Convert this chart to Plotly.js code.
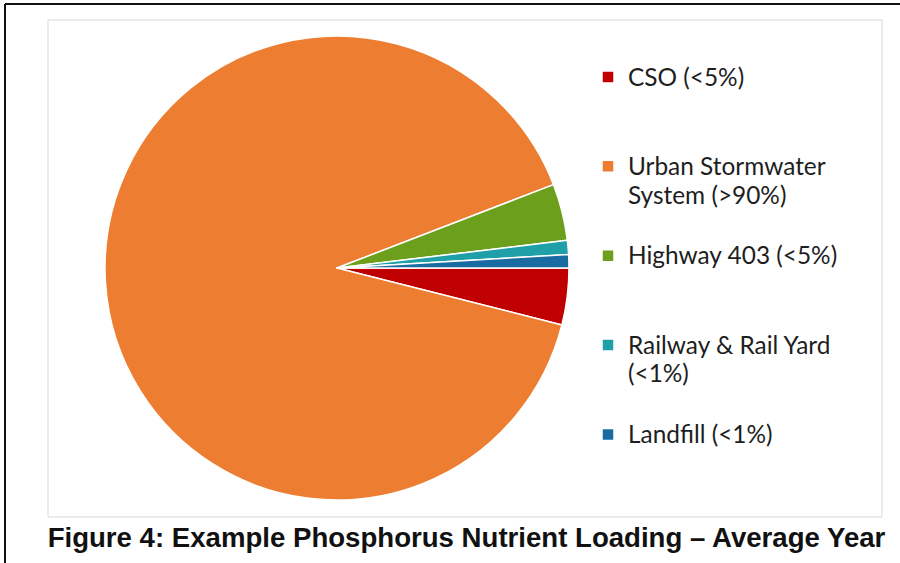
<!DOCTYPE html>
<html>
<head>
<meta charset="utf-8">
<script src="https://cdn.plot.ly/plotly-3.0.1.min.js"></script>
<style>html,body{margin:0;padding:0;background:#fff;}#chart{width:900px;height:563px;}</style>
</head>
<body>
<div id="chart"></div>
<script>
// Data (share of annual phosphorus load, %)
const categories = ["CSO (&lt;5%)", "Urban Stormwater<br>System (&gt;90%)", "Highway 403 (&lt;5%)", "Railway &amp; Rail Yard<br>(&lt;1%)", "Landfill (&lt;1%)"];
const legendPad = ["<br> <br> ", "<br> ", "<br> <br> ", "<br> ", "<br> <br> "];
const values = [3.95, 90.2, 3.95, 0.98, 0.92];
const colors = ["#C00000", "#ED7D31", "#6C9F1C", "#1F9FA8", "#1B6BA3"];
const figureTitle = "Figure 4: Example Phosphorus Nutrient Loading – Average Year";

const W = 900, H = 563;
const px = v => v / W;
const py = v => 1 - v / H;

const cx = 337, cy = 268, r = 232;

const wrapLine = s => s.split("<br>").map(t => '<span style="font-size:24.4px">' + t + '</span>').join("<br>");

const trace = {
  type: "pie",
  labels: categories.map((c, i) => wrapLine(c) + legendPad[i]),
  values: values,
  sort: false,
  direction: "clockwise",
  rotation: 90,
  marker: {colors: colors, line: {color: "#ffffff", width: 1.5}},
  textinfo: "none",
  hoverinfo: "none",
  domain: {x: [px(cx - r), px(cx + r)], y: [py(cy + r), py(cy - r)]}
};

const layout = {
  width: W, height: H,
  margin: {l: 0, r: 0, t: 0, b: 0},
  paper_bgcolor: "#ffffff",
  showlegend: true,
  legend: {
    x: px(588), xanchor: "left",
    y: py(56), yanchor: "top",
    valign: "top",
    bgcolor: "rgba(0,0,0,0)",
    font: {family: "Lato, 'Noto Sans', sans-serif", size: 22.15, color: "#1e1e1e"},
    traceorder: "normal"
  },
  title: {
    text: figureTitle,
    font: {family: "'Liberation Sans', Arial, sans-serif", size: 27.6, color: "#111111", weight: 700},
    x: px(466.5), xanchor: "center", xref: "paper",
    y: py(537.5), yanchor: "middle", yref: "paper"
  },
  shapes: [
    {type: "rect", xref: "paper", yref: "paper", x0: px(48), x1: px(882), y0: py(517), y1: py(20),
     line: {color: "#D9D9D9", width: 1}, fillcolor: "rgba(0,0,0,0)", layer: "below"},
    {type: "line", xref: "paper", yref: "paper", x0: px(5), x1: px(900), y0: py(4), y1: py(4),
     line: {color: "#111111", width: 2}},
    {type: "line", xref: "paper", yref: "paper", x0: px(5), x1: px(5), y0: py(4), y1: py(563),
     line: {color: "#111111", width: 2}}
  ]
};

Plotly.newPlot("chart", [trace], layout, {displayModeBar: false, staticPlot: true});
</script>
</body>
</html>
